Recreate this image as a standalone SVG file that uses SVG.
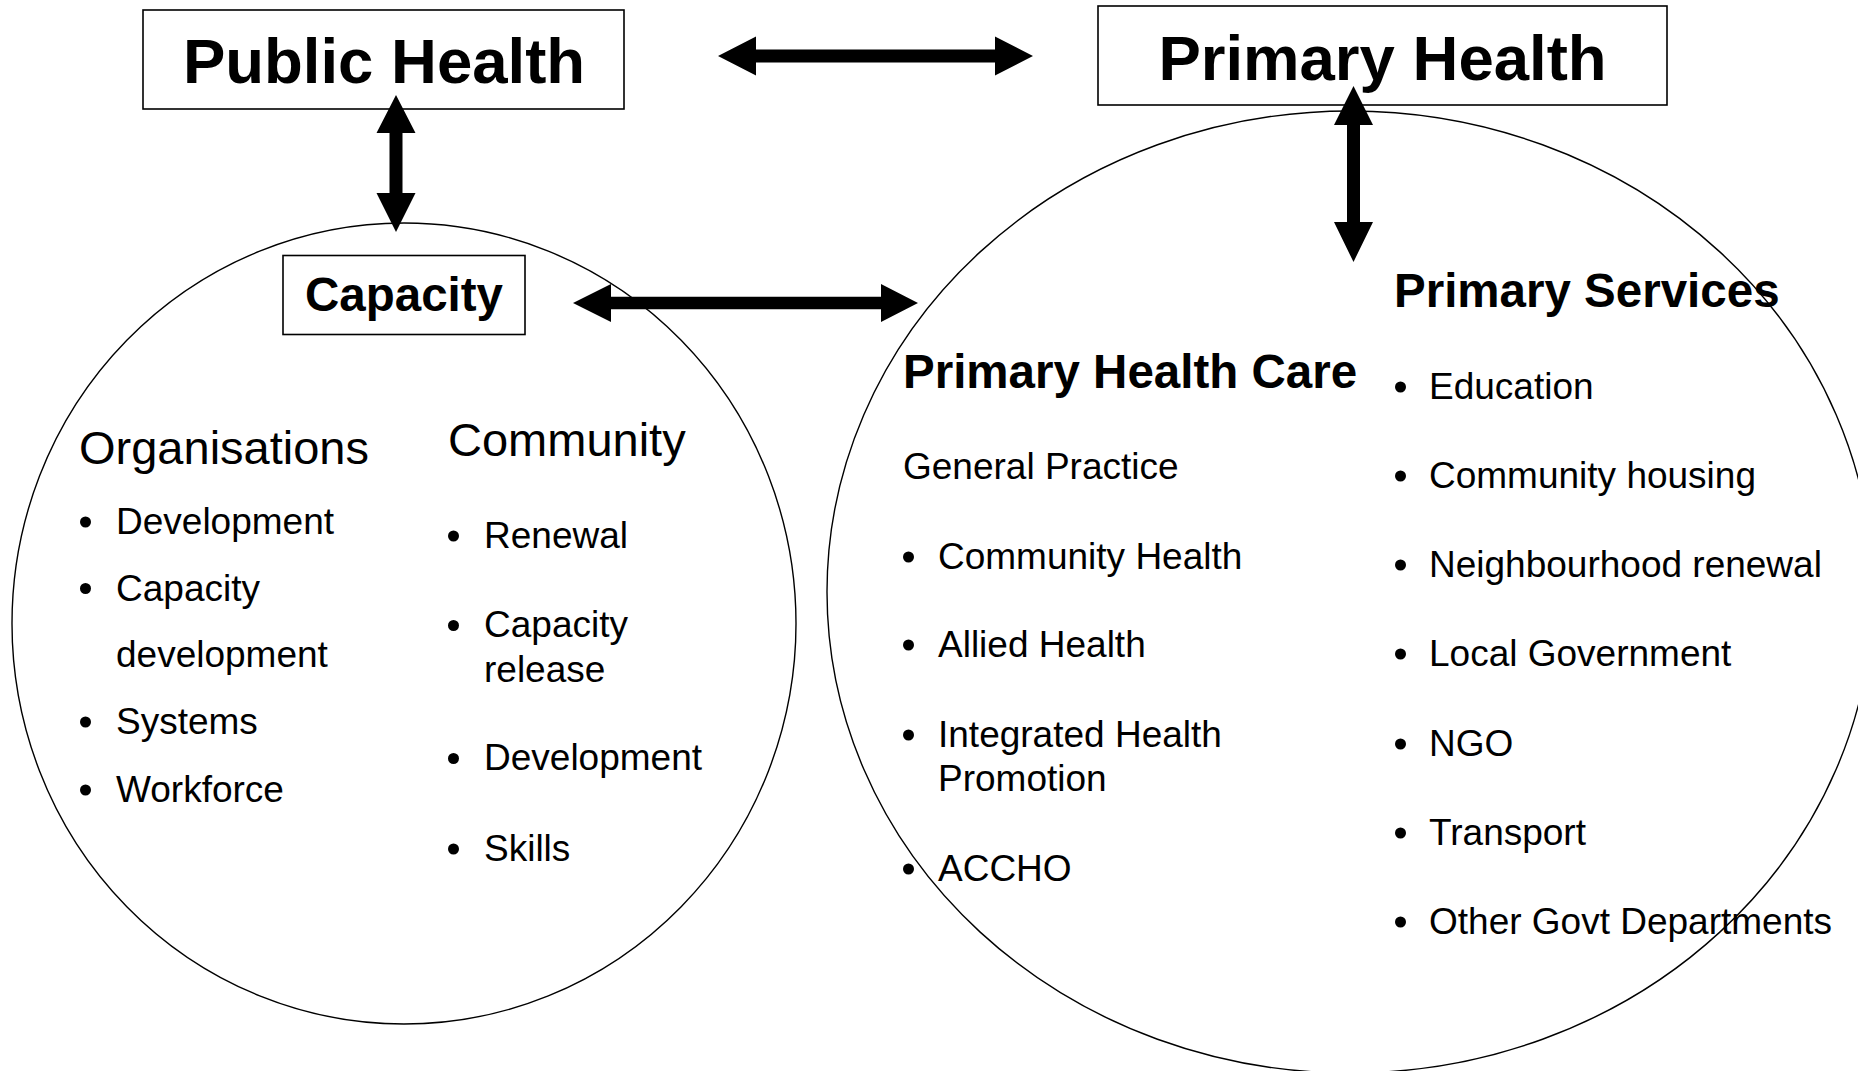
<svg xmlns="http://www.w3.org/2000/svg" width="1858" height="1071" viewBox="0 0 1858 1071">
<style>
text{font-family:"Liberation Sans",Arial,sans-serif;fill:#000}
.h1{font-size:63.5px;font-weight:bold;text-anchor:middle}
.h2{font-size:47.5px;font-weight:bold}
.h3{font-size:47px}
.li{font-size:37px}
.box{fill:#fff;stroke:#000;stroke-width:1.6}
.ring{fill:none;stroke:#000;stroke-width:1.4}
.arr{fill:#000;stroke:none}
.dot{fill:#000}
</style>
<rect width="1858" height="1071" fill="#fff"/>
<g id="circle-capacity">
<ellipse class="ring" cx="404" cy="623.5" rx="392" ry="400.5"/>
</g>
<g id="circle-primary">
<ellipse class="ring" cx="1350" cy="592" rx="523" ry="481"/>
</g>
<g id="public-health">
<rect class="box" x="143" y="10" width="481" height="99"/>
<text class="h1" x="384" y="83">Public Health</text>
</g>
<g id="primary-health">
<rect class="box" x="1098" y="6" width="569" height="99"/>
<text class="h1" x="1382.5" y="80">Primary Health</text>
</g>
<g id="capacity">
<rect class="box" x="283" y="255.5" width="242" height="79"/>
<text class="h2" x="404" y="311" text-anchor="middle">Capacity</text>
</g>
<g id="organisations">
<text class="h3" x="79" y="464">Organisations</text>
<circle class="dot" cx="85.5" cy="522" r="5.5"/><text class="li" x="116" y="534">Development</text>
<circle class="dot" cx="85.5" cy="588.5" r="5.5"/><text class="li" x="116" y="601">Capacity</text>
<text class="li" x="116" y="667">development</text>
<circle class="dot" cx="85.5" cy="722" r="5.5"/><text class="li" x="116" y="734">Systems</text>
<circle class="dot" cx="85.5" cy="790" r="5.5"/><text class="li" x="116" y="802">Workforce</text>
</g>
<g id="community">
<text class="h3" x="448" y="456">Community</text>
<circle class="dot" cx="453.5" cy="536" r="5.5"/><text class="li" x="484" y="548">Renewal</text>
<circle class="dot" cx="453.5" cy="625.5" r="5.5"/><text class="li" x="484" y="637">Capacity</text>
<text class="li" x="484" y="682">release</text>
<circle class="dot" cx="453.5" cy="758.5" r="5.5"/><text class="li" x="484" y="770">Development</text>
<circle class="dot" cx="453.5" cy="849" r="5.5"/><text class="li" x="484" y="861">Skills</text>
</g>
<g id="primary-health-care">
<text class="h2" x="903" y="388">Primary Health Care</text>
<text class="li" x="903" y="479">General Practice</text>
<circle class="dot" cx="908.5" cy="557" r="5.5"/><text class="li" x="938" y="569">Community Health</text>
<circle class="dot" cx="908.5" cy="645" r="5.5"/><text class="li" x="938" y="657">Allied Health</text>
<circle class="dot" cx="908.5" cy="735" r="5.5"/><text class="li" x="938" y="747">Integrated Health</text>
<text class="li" x="938" y="791">Promotion</text>
<circle class="dot" cx="908.5" cy="869" r="5.5"/><text class="li" x="938" y="881">ACCHO</text>
</g>
<g id="primary-services">
<text class="h2" x="1394" y="307">Primary Services</text>
<circle class="dot" cx="1400.5" cy="387" r="5.5"/><text class="li" x="1429" y="399">Education</text>
<circle class="dot" cx="1400.5" cy="476" r="5.5"/><text class="li" x="1429" y="488">Community housing</text>
<circle class="dot" cx="1400.5" cy="565" r="5.5"/><text class="li" x="1429" y="577">Neighbourhood renewal</text>
<circle class="dot" cx="1400.5" cy="654" r="5.5"/><text class="li" x="1429" y="666">Local Government</text>
<circle class="dot" cx="1400.5" cy="744" r="5.5"/><text class="li" x="1429" y="756">NGO</text>
<circle class="dot" cx="1400.5" cy="833" r="5.5"/><text class="li" x="1429" y="845">Transport</text>
<circle class="dot" cx="1400.5" cy="922" r="5.5"/><text class="li" x="1429" y="934">Other Govt Departments</text>
</g>
<g id="connectors">
<polygon class="arr" points="718,56 756,36.5 756,49.5 995,49.5 995,36.5 1033,56 995,75.5 995,62.5 756,62.5 756,75.5"/>
<polygon class="arr" points="396,95 415.5,133 402.5,133 402.5,193 415.5,193 396,232 376.5,193 389.5,193 389.5,133 376.5,133"/>
<polygon class="arr" points="1353.5,86 1373,125 1360,125 1360,222 1373,222 1353.5,262 1334,222 1347,222 1347,125 1334,125"/>
<polygon class="arr" points="573,303 611,284 611,296.75 881,296.75 881,284 918,303 881,322 881,309.25 611,309.25 611,322"/>
</g>
</svg>
